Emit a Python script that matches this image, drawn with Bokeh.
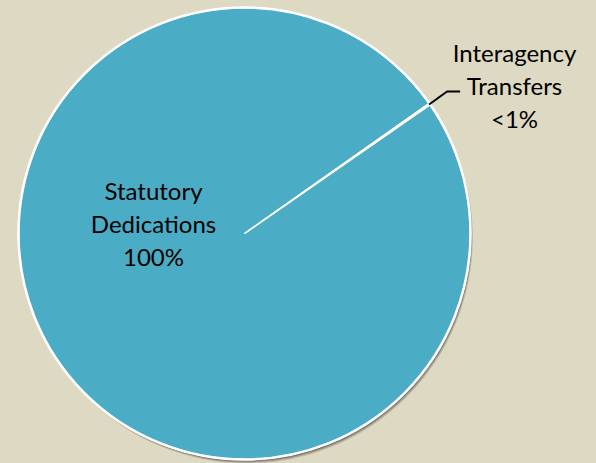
import math
from bokeh.plotting import figure
from bokeh.models import ColumnDataSource
from bokeh.core.properties import value
from bokeh.embed import file_html
from bokeh.resources import INLINE

# ---- data ----
categories = ["Statutory Dedications", "Interagency Transfers"]
values = [99.9, 0.1]
pct_labels = ["100%", "<1%"]

# ---- layout / style ----
W, H = 596, 463
BG = "#DDD9C3"
PIE = "#4BACC6"
CX, CY, R = 244, 230, 226
START_DEG = 34.8  # slice boundary (math degrees)
FONT = "Lato"
FS = "24px"
LINE_H = 33

p = figure(width=W, height=H, x_range=(0, W), y_range=(0, H),
           output_backend="svg", toolbar_location=None, min_border=0)
p.axis.visible = False
p.grid.visible = False
p.outline_line_color = None
p.background_fill_color = BG
p.border_fill_color = BG

# shadow (offset down-right)
for i, a in zip([4, 3, 2, 1], [0.12, 0.18, 0.25, 0.35]):
    p.circle(x=[CX + i * 0.6], y=[CY - i], radius=R, fill_color="black",
             fill_alpha=a, line_color=None)

# wedges (clockwise from boundary)
total = sum(values)
ang = math.radians(START_DEG)
angs = []
cur = ang
for v in values:
    sweep = v / total * 2 * math.pi
    angs.append((cur - sweep, cur))
    cur -= sweep
src = ColumnDataSource(dict(
    start=[a[0] for a in angs], end=[a[1] for a in angs],
    cat=categories))
p.wedge(x=CX, y=CY, radius=R, start_angle="start", end_angle="end",
        fill_color=PIE, line_color=None, source=src)
p.wedge(x=CX, y=CY, radius=R, start_angle="start", end_angle="end",
        fill_color=None, line_color="white", line_width=1.5, source=src)
p.circle(x=[CX], y=[CY], radius=R, fill_color=None, line_color="white",
         line_width=2.5)

# labels
def draw_lines(lines, x, ytop):
    for k, t in enumerate(lines):
        p.text(x=[x], y=[ytop - k * LINE_H], text=[t], text_font=value(FONT),
               text_font_size=FS, text_align="center", text_baseline="middle",
               text_color="black")

# Statutory label
draw_lines(categories[0].split(" ") + [pct_labels[0]], CX - 91, CY + 43)

# Interagency label with leader line
bx = CX + R * math.cos(ang)
by = CY + R * math.sin(ang)
p.line(x=[bx - 1, bx + 17, bx + 30], y=[by, by + 13, by + 13],
       line_color="black", line_width=2)
draw_lines(categories[1].split(" ") + [pct_labels[1]], CX + 270, CY + 181)

html = file_html(p, INLINE)
html = html.replace("<head>", "<head><style>html,body{background:%s;}</style>" % BG, 1)
open("out.html", "w").write(html)
